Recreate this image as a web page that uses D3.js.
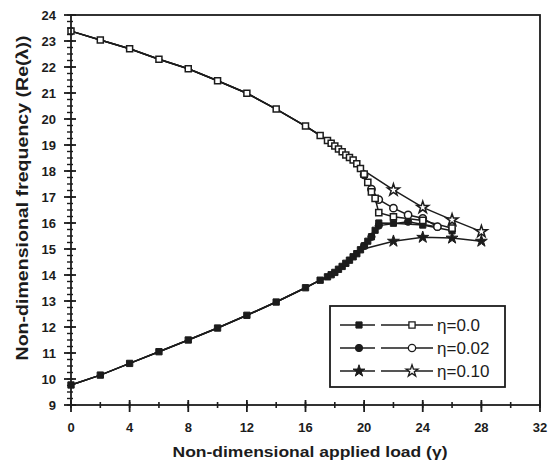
<!DOCTYPE html>
<html><head><meta charset="utf-8">
<script src="https://cdn.jsdelivr.net/npm/d3@7"></script>
<style>
html,body{margin:0;padding:0;background:#fff;}
text{font-family:"Liberation Sans",Arial,sans-serif;}
</style></head>
<body><svg id="c" width="548" height="469"></svg>
<script>
// ---- data ----
const xTicks = [0,4,8,12,16,20,24,28,32];
const yTicks = [9,10,11,12,13,14,15,16,17,18,19,20,21,22,23,24];

// points shared by all three damping values (curves coincide)
const sharedGamma = [0,2,4,6,8,10,12,14,16,17,17.5,17.75,18,18.25,18.5,18.75,19,19.25,19.5,19.75];
const sharedUpper = [23.38,23.04,22.7,22.3,21.93,21.47,20.99,20.38,19.73,19.37,19.17,19.07,18.96,18.85,18.74,18.62,18.52,18.42,18.28,18.1];
const sharedLower = [9.77,10.15,10.6,11.05,11.5,11.96,12.45,12.96,13.51,13.8,13.93,14.01,14.1,14.22,14.33,14.45,14.57,14.7,14.82,14.97];

// eta = 0.0 (squares)
const sqGammaUp = [20,20.25,20.5,20.75,21,22,24,26];
const sqFreqUp  = [17.88,17.56,17.2,16.95,16.4,16.24,16.1,15.8];
const sqGammaLo = [20,20.25,20.5,20.75,21,22,24,26];
const sqFreqLo  = [15.12,15.3,15.47,15.72,16.0,15.99,15.92,15.7];
// eta = 0.02 (circles)
const ciGammaUp = [20,20.5,21,22,23,24,25];
const ciFreqUp  = [17.85,17.3,16.9,16.57,16.31,16.18,15.86];
const ciGammaLo = [20,20.5,21,23,25];
const ciFreqLo  = [15.12,15.47,15.9,16.05,15.85];
// eta = 0.10 (stars)
const stGammaUp = [22,24,26,28];
const stFreqUp  = [17.27,16.6,16.12,15.67];
const stGammaLo = [22,24,26,28];
const stFreqLo  = [15.3,15.45,15.42,15.3];

const legendLabels = ["η=0.0","η=0.02","η=0.10"];

// ---- drawing ----
const svg = d3.select("#c");
const L=71, R=540, T=15, B=405;
const x = d3.scaleLinear().domain([0,32]).range([L,R]);
const y = d3.scaleLinear().domain([9,24]).range([B,T]);
const ink = "#1c1c1c";

function pts(gx, gy){ return gx.map((g,i)=>[g,gy[i]]); }
const shUp = pts(sharedGamma,sharedUpper), shLo = pts(sharedGamma,sharedLower);
const series = [
  {sym:d3.symbolSquare, size:38, upOwn:pts(sqGammaUp,sqFreqUp), loOwn:pts(sqGammaLo,sqFreqLo)},
  {sym:d3.symbolCircle, size:42, upOwn:pts(ciGammaUp,ciFreqUp), loOwn:pts(ciGammaLo,ciFreqLo)},
  {sym:d3.symbolStar, size:44, upOwn:pts(stGammaUp,stFreqUp), loOwn:pts(stGammaLo,stFreqLo)}
];

const line = d3.line().x(d=>x(d[0])).y(d=>y(d[1]));
const g = svg.append("g");
series.forEach(s=>{
  g.append("path").attr("d",line(shUp.concat(s.upOwn))).attr("fill","none").attr("stroke",ink).attr("stroke-width",1.5);
  g.append("path").attr("d",line(shLo.concat(s.loOwn))).attr("fill","none").attr("stroke",ink).attr("stroke-width",1.5);
});
function marks(data, symType, size, filled){
  const sym = d3.symbol().type(symType).size(size);
  g.selectAll(null).data(data).enter().append("path")
    .attr("d",sym).attr("transform",d=>`translate(${x(d[0])},${y(d[1])})`)
    .attr("fill",filled?ink:"#fff").attr("stroke",ink).attr("stroke-width",filled?1:1.5);
}
marks(shLo, d3.symbolSquare, 40, true);
marks(shUp, d3.symbolSquare, 36, false);
series.slice().reverse().forEach(s=>{
  marks(s.loOwn, s.sym, s.size, true);
  marks(s.upOwn, s.sym, s.size, false);
});

// frame
svg.append("rect").attr("x",L).attr("y",T).attr("width",R-L).attr("height",B-T)
  .attr("fill","none").attr("stroke",ink).attr("stroke-width",1.8);

// axes ticks
const xMinor = d3.range(0,33,2);
svg.selectAll(null).data(xMinor).enter().append("line")
  .attr("x1",d=>x(d)).attr("x2",d=>x(d)).attr("y1",B-3).attr("y2",B+3)
  .attr("stroke",ink).attr("stroke-width",1.6);
svg.selectAll(null).data(xTicks).enter().append("line")
  .attr("x1",d=>x(d)).attr("x2",d=>x(d)).attr("y1",B-5).attr("y2",B+7)
  .attr("stroke",ink).attr("stroke-width",1.8);
svg.selectAll(null).data(xTicks).enter().append("text")
  .attr("x",d=>x(d)).attr("y",B+27).attr("text-anchor","middle")
  .attr("font-size",13).attr("font-weight","bold").attr("fill",ink).text(d=>d);

const yMinor = d3.range(9,24.01,0.25);
svg.selectAll(null).data(yMinor).enter().append("line")
  .attr("x1",L-4).attr("x2",L+2).attr("y1",d=>y(d)).attr("y2",d=>y(d))
  .attr("stroke",ink).attr("stroke-width",1.4);
svg.selectAll(null).data(yTicks).enter().append("line")
  .attr("x1",L-7).attr("x2",L+5).attr("y1",d=>y(d)).attr("y2",d=>y(d))
  .attr("stroke",ink).attr("stroke-width",1.8);
svg.selectAll(null).data(yTicks).enter().append("text")
  .attr("x",L-15).attr("y",d=>y(d)+5).attr("text-anchor","end")
  .attr("font-size",13).attr("font-weight","bold").attr("fill",ink).text(d=>d);

// axis titles
svg.append("text").attr("x",310).attr("y",457).attr("text-anchor","middle")
  .attr("font-size",15).attr("font-weight","bold").attr("fill",ink)
  .attr("textLength",275).attr("lengthAdjust","spacingAndGlyphs")
  .text("Non-dimensional applied load (γ)");
svg.append("text").attr("transform","translate(28,198) rotate(-90)").attr("text-anchor","middle")
  .attr("font-size",17).attr("font-weight","bold").attr("fill",ink)
  .attr("textLength",325).attr("lengthAdjust","spacingAndGlyphs")
  .text("Non-dimensional frequency (Re(λ))");

// legend
const lg = svg.append("g");
lg.append("rect").attr("x",330).attr("y",306).attr("width",175).attr("height",81)
  .attr("fill","#fff").attr("stroke",ink).attr("stroke-width",1.8);
series.forEach((s,i)=>{
  const yy = 325 + i*23;
  const sym = d3.symbol().type(s.sym).size(s.size);
  lg.append("line").attr("x1",340).attr("x2",375).attr("y1",yy).attr("y2",yy).attr("stroke",ink).attr("stroke-width",1.5);
  lg.append("path").attr("d",sym).attr("transform",`translate(359,${yy})`).attr("fill",ink).attr("stroke",ink);
  lg.append("line").attr("x1",381).attr("x2",433).attr("y1",yy).attr("y2",yy).attr("stroke",ink).attr("stroke-width",1.5);
  lg.append("path").attr("d",sym).attr("transform",`translate(412,${yy})`).attr("fill","#fff").attr("stroke",ink).attr("stroke-width",1.3);
  lg.append("text").attr("x",437).attr("y",yy+6).attr("font-size",17).attr("fill",ink).text(legendLabels[i]);
});
</script></body></html>
